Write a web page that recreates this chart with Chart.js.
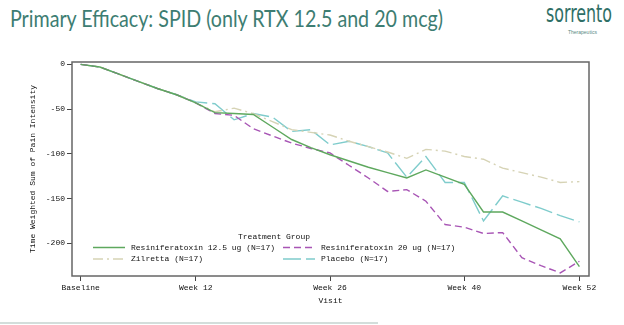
<!DOCTYPE html>
<html>
<head>
<meta charset="utf-8">
<script src="https://cdn.jsdelivr.net/npm/chart.js@4.4.1/dist/chart.umd.min.js"></script>
<style>
  body { margin: 0; width: 624px; height: 325px; background: #fff; position: relative; overflow: hidden; }
  .title { position: absolute; left: 10px; top: 7px; font-family: Lato, sans-serif; font-size: 23px; line-height: 1; color: #3d7d72; white-space: nowrap; transform-origin: 0 0; }
  .logo { position: absolute; left: 546px; top: 2px; font-family: "Liberation Sans Narrow", "DejaVu Sans Condensed", sans-serif; font-size: 24px; line-height: 1; color: #2f6f66; white-space: nowrap; transform-origin: 0 0; }
  .logo-sub { position: absolute; left: 568px; top: 29px; font-family: "Liberation Sans", sans-serif; font-size: 5px; color: #5a8a83; white-space: nowrap; }
  .rule { position: absolute; left: 0; top: 322px; width: 378px; height: 2px; background: #d3dedb; }
  .chart-box { position: absolute; left: 0; top: 0; width: 624px; height: 325px; }
</style>
</head>
<body>
<div class="title" id="title">Primary Efficacy: SPID (only RTX 12.5 and 20 mcg)</div>
<div class="logo" id="logo">sorrento</div>
<div class="logo-sub">Therapeutics</div>
<div class="rule"></div>
<div class="chart-box"><canvas id="chart" width="624" height="325"></canvas></div>
<script>
// weeks since baseline (visits every 2 weeks)
const weeks = [0, 2, 4, 6, 8, 10, 12, 14, 16, 18, 20, 22, 24, 26, 28, 30, 32, 34, 36, 38, 40, 42, 44, 46, 48, 50, 52];

const rtx125 = [0, -3, -11, -19, -27, -34, -43, -54, -55, -56, -70, -84, -93, -101, -108, -115, -121, -127, -118, -126, -134, -165, -165, -175, -185, -195, -226];
const rtx20 = [0, -3, -11, -19, -27, -34, -43, -55, -57, -72, -80, -88, -94, -99, -113, -127, -142, -140, -153, -179, -182, -189, -188, -216, -225, -233, -220];
const zilretta = [0, -3, -11, -19, -27, -34, -43, -53, -49, -55, -64, -73, -76, -79, -86, -92, -98, -105, -95, -97, -103, -106, -116, -121, -126, -132, -131];
const placebo = [0, -3, -11, -19, -27, -34, -42, -44, -62, -55, -59, -75, -73, -90, -86, -92, -99, -126, -103, -132, -132, -175, -147, -154, -161, -169, -176];

const xTickWeeks = [0, 12, 26, 40, 52];
const xTickLabels = ["Baseline", "Week 12", "Week 26", "Week 40", "Week 52"];
const yTicks = [0, -50, -100, -150, -200];

function fitWidth(id, w) {
  const el = document.getElementById(id);
  const r = el.getBoundingClientRect().width;
  el.style.transform = `scaleX(${w / r})`;
}
fitWidth("title", 433);
fitWidth("logo", 66);

function points(values) {
  return weeks.map((w, i) => ({ x: w, y: values[i] }));
}

const monoFont = { family: "'Liberation Mono', 'DejaVu Sans Mono', monospace", size: 8 };

// box around the plot area
const frame = {
  id: "frame",
  afterDraw(chart) {
    const { ctx, chartArea } = chart;
    ctx.save();
    ctx.strokeStyle = "#666";
    ctx.lineWidth = 1.5;
    ctx.strokeRect(chartArea.left, chartArea.top, chartArea.right - chartArea.left, chartArea.bottom - chartArea.top);
    ctx.restore();
  },
};

// SAS style legend inside the plot
const groupLegend = {
  id: "groupLegend",
  afterDraw(chart) {
    const { ctx, chartArea } = chart;
    const ds = chart.data.datasets;
    const x0 = chartArea.left;
    ctx.save();
    ctx.font = "8px 'Liberation Mono', 'DejaVu Sans Mono', monospace";
    ctx.fillStyle = "#111";
    ctx.textBaseline = "middle";
    ctx.textAlign = "center";
    ctx.fillText("Treatment Group", x0 + 202, 237);
    ctx.textAlign = "left";
    const slots = [
      [x0 + 21, 247.5],
      [x0 + 211, 247.5],
      [x0 + 21, 259],
      [x0 + 211, 259],
    ];
    ds.forEach((d, i) => {
      const [lx, ly] = slots[i];
      ctx.beginPath();
      ctx.strokeStyle = d.borderColor;
      ctx.lineWidth = 1.5;
      ctx.setLineDash(d.borderDash || []);
      ctx.moveTo(lx, ly);
      ctx.lineTo(lx + 32, ly);
      ctx.stroke();
      ctx.setLineDash([]);
      ctx.fillText(d.label, lx + 38, ly);
    });
    ctx.restore();
  },
};

const ctx = document.getElementById("chart");

const chart = new Chart(ctx, {
  type: "line",
  data: {
    datasets: [
      {
        label: "Resiniferatoxin 12.5 ug (N=17)",
        data: points(rtx125),
        borderColor: "#5ea85e",
        borderWidth: 1.4,
      },
      {
        label: "Resiniferatoxin 20 ug (N=17)",
        data: points(rtx20),
        borderColor: "#a855b5",
        borderWidth: 1.4,
        borderDash: [7, 4],
      },
      {
        label: "Zilretta (N=17)",
        data: points(zilretta),
        borderColor: "#d6d3b5",
        borderWidth: 1.4,
        borderDash: [10, 4, 2, 4],
      },
      {
        label: "Placebo (N=17)",
        data: points(placebo),
        borderColor: "#7fcccc",
        borderWidth: 1.4,
        borderDash: [18, 5],
      },
    ],
  },
  options: {
    responsive: false,
    animation: false,
    layout: {
      padding: { left: 0, right: 35, top: 62, bottom: 0 },
    },
    elements: {
      point: { radius: 0 },
      line: { tension: 0 },
    },
    scales: {
      x: {
        type: "linear",
        min: -0.9,
        max: 53.0,
        afterFit: (s) => {
          s.height = 49;
        },
        afterBuildTicks: (s) => {
          s.ticks = xTickWeeks.map((v) => ({ value: v }));
        },
        grid: { drawOnChartArea: false, tickLength: 5, color: "#444" },
        border: { display: false },
        ticks: {
          autoSkip: false,
          maxRotation: 0,
          padding: 2,
          font: monoFont,
          color: "#111",
          callback: (v, i) => xTickLabels[i],
        },
        title: {
          display: true,
          text: "Visit",
          font: monoFont,
          color: "#111",
          padding: { top: 0, bottom: 19 },
        },
      },
      y: {
        type: "linear",
        min: -236.5,
        max: 2.6,
        afterFit: (s) => {
          s.width = 72;
        },
        afterBuildTicks: (s) => {
          s.ticks = yTicks.map((v) => ({ value: v }));
        },
        grid: { drawOnChartArea: false, tickLength: 5, color: "#444" },
        border: { display: false },
        ticks: {
          autoSkip: false,
          padding: 2,
          font: monoFont,
          color: "#111",
        },
        title: {
          display: true,
          text: "Time Weighted Sum of Pain Intensity",
          font: monoFont,
          color: "#111",
          padding: { top: 28, bottom: 0 },
        },
      },
    },
    plugins: {
      legend: { display: false },
      tooltip: { enabled: false },
    },
  },
  plugins: [frame, groupLegend],
});
</script>
</body>
</html>
